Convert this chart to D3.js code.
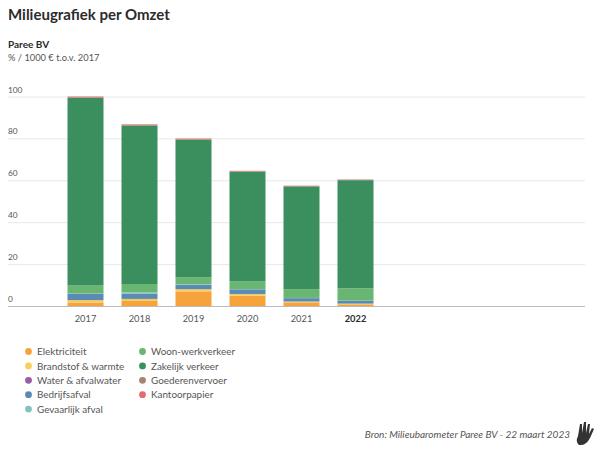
<!DOCTYPE html>
<html>
<head>
<meta charset="utf-8">
<script src="https://cdnjs.cloudflare.com/ajax/libs/d3/7.8.5/d3.min.js"></script>
<style>
  html, body { margin: 0; padding: 0; background: #fff; }
  svg { display: block; }
  text { font-family: Lato, "Noto Sans", sans-serif; }
</style>
</head>
<body>
<svg id="svg" width="605" height="453"></svg>
<script>
var years = ['2017', '2018', '2019', '2020', '2021', '2022'];
var seriesNames = ['Elektriciteit', 'Brandstof & warmte', 'Water & afvalwater', 'Bedrijfsafval', 'Gevaarlijk afval',
  'Woon-werkverkeer', 'Zakelijk verkeer', 'Goederenvervoer', 'Kantoorpapier'];
var seriesColors = ['#f6a33c', '#f5d05c', '#9a5ba8', '#5b8ab5', '#7fc4b8', '#69b572', '#3b8f5e', '#a5846f', '#e46c6c'];

var elektriciteit = [1.7, 2.4, 7.0, 4.9, 1.75, 0.8];
var brandstof = [1.1, 0.9, 1.0, 0.8, 0.35, 0.3];
var water = [0.05, 0.1, 0.05, 0.05, 0.05, 0.05];
var bedrijfsafval = [3.0, 2.5, 2.1, 2.2, 1.6, 1.3];
var gevaarlijk = [0.1, 0.6, 0.3, 0.1, 0.1, 0.1];
var woonwerk = [3.8, 4.0, 3.3, 3.8, 4.2, 5.9];
var zakelijk = [89.6, 75.6, 65.6, 52.2, 49.0, 51.6];
var goederen = [0.3, 0.3, 0.3, 0.3, 0.25, 0.25];
var kantoorpapier = [0.35, 0.3, 0.3, 0.2, 0.15, 0.1];

var allValues = [elektriciteit, brandstof, water, bedrijfsafval, gevaarlijk, woonwerk, zakelijk, goederen, kantoorpapier];
var yTicks = [0, 20, 40, 60, 80, 100];

var svg = d3.select('#svg');

svg.append('text').attr('x', 8).attr('y', 19.5).text('Milieugrafiek per Omzet')
  .attr('font-size', 15).attr('font-weight', 700).attr('fill', '#2b2b2b');
svg.append('text').attr('x', 8).attr('y', 48).text('Paree BV')
  .attr('font-size', 10).attr('font-weight', 700).attr('fill', '#2b2b2b');
svg.append('text').attr('x', 8).attr('y', 61).text('% / 1000 € t.o.v. 2017')
  .attr('font-size', 9.3).attr('fill', '#555');

var y = d3.scaleLinear().domain([0, 100]).range([306, 96.5]);
var x = d3.scaleBand().domain(years).range([58.5, 382.5]).paddingInner(1 / 3).paddingOuter(1 / 6);

// grid
svg.append('g').selectAll('line').data(yTicks).enter().append('line')
  .attr('x1', 8).attr('x2', 585)
  .attr('y1', function (d) { return y(d) + 0.5; })
  .attr('y2', function (d) { return y(d) + 0.5; })
  .attr('stroke', function (d) { return d === 0 ? '#bbb' : '#e8e8e8'; });

svg.append('g').selectAll('text').data(yTicks).enter().append('text')
  .attr('x', 8).attr('y', function (d) { return y(d) - 4; })
  .attr('font-size', 8.3).attr('fill', '#555')
  .text(function (d) { return d; });

// stacked bars
var rows = years.map(function (yr, i) {
  var row = { year: yr };
  seriesNames.forEach(function (n, j) { row[n] = allValues[j][i]; });
  return row;
});
var stacked = d3.stack().keys(seriesNames)(rows);

svg.append('g').selectAll('g').data(stacked).enter().append('g')
  .attr('fill', function (d, i) { return seriesColors[i]; })
  .selectAll('rect').data(function (d) { return d; }).enter().append('rect')
  .attr('x', function (d) { return x(d.data.year); })
  .attr('width', x.bandwidth())
  .attr('y', function (d) { return y(d[1]); })
  .attr('height', function (d) { return y(d[0]) - y(d[1]); });

// x labels
svg.append('g').selectAll('text').data(years).enter().append('text')
  .attr('x', function (d) { return x(d) + x.bandwidth() / 2; })
  .attr('y', 322).attr('text-anchor', 'middle')
  .attr('font-size', 9.3).attr('fill', function (d) { return d === '2022' ? '#2b2b2b' : '#555'; })
  .attr('font-weight', function (d) { return d === '2022' ? 700 : 400; })
  .text(function (d) { return d; });

// legend
var legend = svg.append('g').selectAll('g').data(seriesNames).enter().append('g')
  .attr('transform', function (d, i) {
    var col = i < 5 ? 0 : 1, row = i < 5 ? i : i - 5;
    return 'translate(' + (col ? 142.5 : 28.5) + ',' + (351.5 + row * 14.4) + ')';
  });
legend.append('circle').attr('r', 3.4).attr('fill', function (d, i) { return seriesColors[i]; });
legend.append('text').attr('x', 8.5).attr('y', 3.6)
  .attr('font-size', 9.9).attr('fill', '#555')
  .text(function (d) { return d; });

// source
svg.append('text').attr('x', 570).attr('y', 438).attr('text-anchor', 'end')
  .attr('font-size', 10).attr('font-style', 'italic').attr('fill', '#555')
  .text('Bron: Milieubarometer Paree BV - 22 maart 2023');

// logo
svg.append('path')
  .attr('d', 'M579,445 Q575,442 578,436 L580,424 L582,424 L582,433 L584,422 L586,422 L586,433 L588,424 L590,424 L589,434 L592,428 L594,429 L590,438 Q586,446 579,445Z')
  .attr('fill', '#333');
</script>
</body>
</html>
